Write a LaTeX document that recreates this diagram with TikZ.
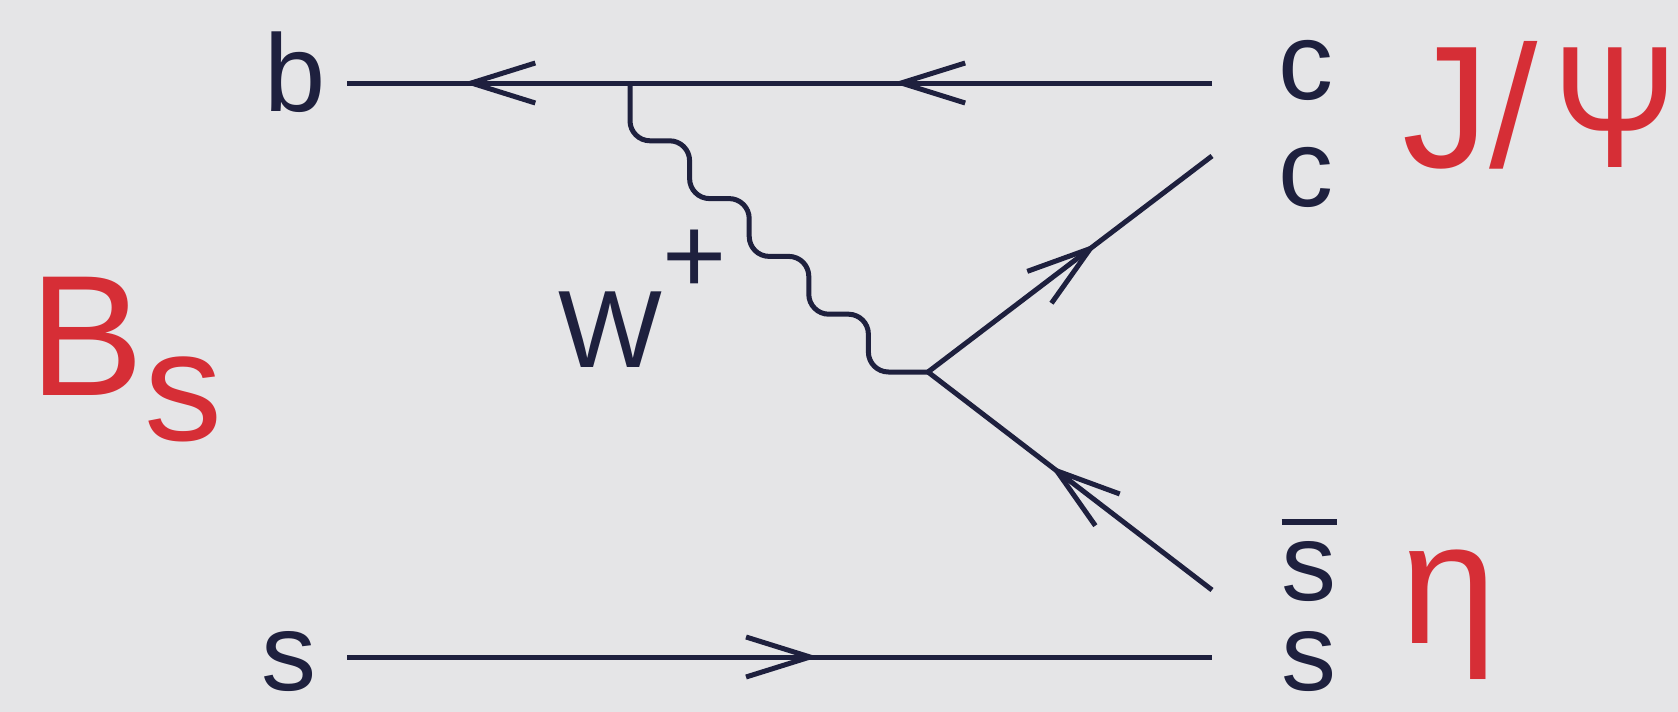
\documentclass[tikz,border=0pt]{standalone}
\usepackage{fontspec}
\setmainfont{Liberation Sans}
\usepackage{xcolor}
\usetikzlibrary{arrows.meta,decorations.markings}

\definecolor{bggray}{RGB}{229,229,231}
\definecolor{qline}{RGB}{30,32,62}
\definecolor{mred}{RGB}{214,46,54}

\tikzset{qtip/.tip={Straight Barb[length=32pt, width=20pt, line width=2.5pt]}}
\newcommand{\sbar}{\makebox[0pt][l]{\raisebox{0.68em}{\rule{0.5em}{0.055em}}}s}

\begin{document}
\begin{tikzpicture}[
  x=0.5pt, y=-0.5pt,
  quark/.style={draw=qline, color=qline, line width=2.5pt},
  qarrow/.style={postaction={decorate},
    decoration={markings, mark=at position #1 with {\arrow{qtip}}}},
  wboson/.style={draw=qline, line width=2.5pt, rounded corners=10pt},
  lbl/.style={font=\fontsize{55}{60}\selectfont, text=qline, inner sep=0pt, anchor=base},
  meson/.style={font=\fontsize{87}{90}\selectfont, text=mred, inner sep=0pt, anchor=base west}
]
\path[use as bounding box, fill=bggray] (0,0) rectangle (1678,712);

% end points of the quark lines
\coordinate (bL) at (347,83);
\coordinate (cR) at (1212,83);
\coordinate (wtop) at (630,83);
\coordinate (vtx) at (928,372);
\coordinate (cE) at (1212,156);
\coordinate (sbE) at (1212,590);
\coordinate (sL) at (347,657);
\coordinate (sR) at (1212,657);

% quark labels
\node[lbl] (bq) at (295,112) {b};
\node[lbl] (sq) at (289,690) {s};
\node[lbl] (cq) at (1306,99) {c};
\node[lbl] (cq2) at (1306,206) {c};
\node[lbl] (sbq) at (1309,600) {\sbar};
\node[lbl] (sq2) at (1309,690) {s};
\node[lbl, anchor=base west] (wlbl) at (558,367) {W\raisebox{0.67em}{+}};

% mesons
\node[meson, font=\fontsize{78}{80}\selectfont] (bs) at (29,395)
  {{\fontsize{86}{90}\selectfont B}\raisebox{-22.5pt}{s}};
\node[meson] (jpsi) at (1402,167) {J/\kern8pt\scalebox{0.85}[1]{Ψ}};
\node[meson] (eta) at (1400,643) {η};

% lines
\draw[quark, postaction={decorate}, decoration={markings,
  mark=at position 0.369 with {\arrow{qtip}},
  mark=at position 0.866 with {\arrow{qtip}}}] (cR) -- (bL);
\draw[quark, qarrow=0.545] (sL) -- (sR);
\draw[quark, qarrow=0.595] (vtx) -- (cE);
\draw[quark, qarrow=0.57] (sbE) -- (vtx);
\draw[wboson] (wtop) \foreach \k in {1,...,5} { -- ++(0,57.8) -- ++(59.6,0) };
\end{tikzpicture}
\end{document}
